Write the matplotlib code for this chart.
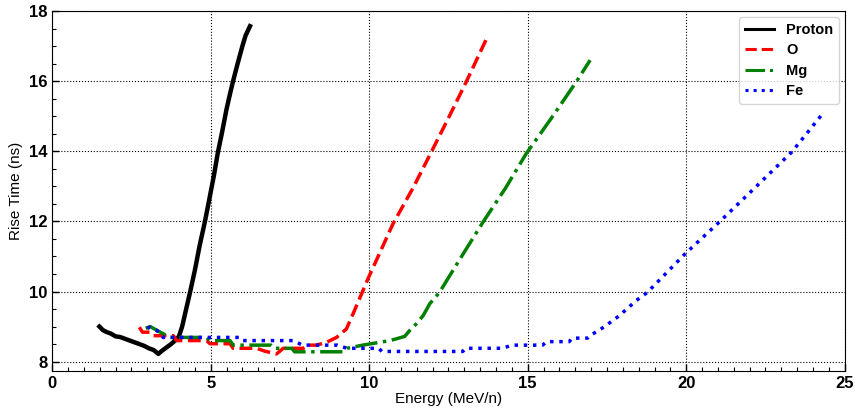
import matplotlib
matplotlib.use('Agg')
import matplotlib.pyplot as plt
from matplotlib.ticker import MultipleLocator

plt.rcParams['font.family'] = ['Liberation Sans', 'DejaVu Sans']

# Proton
proton_e = [1.49, 1.6, 1.7, 1.85, 2.0, 2.15, 2.3, 2.45, 2.6, 2.75, 2.9, 3.05, 3.2, 3.35,
            3.45, 3.6, 3.75, 3.9, 4.0, 4.1, 4.24, 4.35, 4.5, 4.65, 4.82, 4.95, 5.1,
            5.23, 5.35, 5.5, 5.6, 5.7, 5.85, 6.0, 6.1, 6.24]
proton_t = [9.0, 8.9, 8.85, 8.8, 8.72, 8.7, 8.65, 8.6, 8.55, 8.5, 8.45, 8.38, 8.33, 8.22,
            8.3, 8.4, 8.5, 8.62, 8.72, 9.0, 9.55, 9.98, 10.6, 11.3, 12.0, 12.6, 13.3,
            13.98, 14.5, 15.2, 15.6, 15.98, 16.5, 17.0, 17.3, 17.57]

# O
o_e = [2.75, 2.85, 3.09, 3.2, 3.82, 3.93, 4.87, 4.98, 5.61, 5.71, 6.45, 6.7, 7.08,
       7.29, 7.92, 8.1, 8.34, 8.65, 8.97, 9.28, 9.49, 9.96, 10.75, 11.38, 11.96, 12.5,
       13.06, 13.69]
o_t = [8.98, 8.84, 8.84, 8.74, 8.74, 8.6, 8.6, 8.51, 8.51, 8.38, 8.38, 8.3, 8.22,
       8.38, 8.38, 8.47, 8.47, 8.55, 8.69, 8.93, 9.36, 10.36, 11.93, 12.95, 13.98, 14.95,
       15.98, 17.19]

# Mg
mg_e = [2.95, 3.09, 3.51, 3.72, 4.87, 4.98, 5.61, 5.71, 6.9, 7.0, 7.55, 7.65, 9.17,
        9.3, 9.8, 10.33, 10.65, 10.86, 11.12, 11.28, 11.49, 11.7, 11.91, 12.22, 12.9,
        13.59, 14.3, 14.95, 15.75, 16.53, 16.97]
mg_t = [8.95, 9.0, 8.79, 8.69, 8.69, 8.6, 8.6, 8.47, 8.47, 8.38, 8.38, 8.28, 8.28,
        8.38, 8.47, 8.55, 8.6, 8.65, 8.72, 8.89, 9.08, 9.31, 9.65, 9.98, 10.98,
        11.98, 12.95, 13.93, 14.95, 15.98, 16.6]

# Fe
fe_e = [3.0, 3.09, 3.3, 3.5, 5.9, 6.0, 7.6, 7.9, 9.0, 9.3, 10.3, 10.4, 12.95, 13.05,
        14.21, 14.5, 15.47, 15.6, 16.31, 16.4, 16.89, 17.05, 17.26, 17.47, 17.89, 18.1,
        18.42, 18.78, 19.97, 21.04, 22.19, 23.33, 24.31]
fe_t = [8.95, 8.98, 8.89, 8.69, 8.69, 8.6, 8.6, 8.47, 8.47, 8.38, 8.38, 8.29, 8.29, 8.38,
        8.38, 8.47, 8.47, 8.57, 8.57, 8.67, 8.67, 8.79, 8.9, 9.03, 9.31, 9.48,
        9.74, 9.98, 11.08, 11.98, 12.98, 13.98, 15.08]

fig = plt.figure(figsize=(8.55, 4.11), dpi=100)
ax = fig.add_axes([0.061, 0.098, 0.927, 0.875])

ax.plot(proton_e, proton_t, color='black', lw=3.2, ls='-', label='Proton')
ax.plot(o_e, o_t, color='red', lw=2.5, ls='--', label='O')
ax.plot(mg_e, mg_t, color='green', lw=2.5, ls='-.', label='Mg')
ax.plot(fe_e, fe_t, color='blue', lw=2.5, ls=':', label='Fe')

ax.set_xlim(0, 25)
ax.set_ylim(7.74, 18)
ax.xaxis.set_major_locator(MultipleLocator(5))
ax.xaxis.set_minor_locator(MultipleLocator(0.5))
ax.yaxis.set_major_locator(MultipleLocator(2))
ax.yaxis.set_minor_locator(MultipleLocator(0.5))
ax.tick_params(which='both', direction='in', top=False, right=False)
ax.tick_params(which='major', length=5, width=1)
ax.tick_params(which='minor', length=3, width=0.8)
for lbl in ax.get_xticklabels() + ax.get_yticklabels():
    lbl.set_fontweight('bold')
    lbl.set_fontsize(12)
ax.grid(True, which='major', ls=':', color='black', lw=0.8)

ax.set_xlabel('Energy (MeV/n)', fontsize=11, labelpad=1)
ax.set_ylabel('Rise Time (ns)', fontsize=11, labelpad=4)

leg = ax.legend(loc='upper right', prop={'weight': 'bold', 'size': 10.5},
                handlelength=2.0, labelspacing=0.45, borderaxespad=0.4)
leg.get_frame().set_edgecolor('#cccccc')
for h in leg.get_lines():
    h.set_linewidth(2.2)

plt.savefig('out.png', dpi=100)
